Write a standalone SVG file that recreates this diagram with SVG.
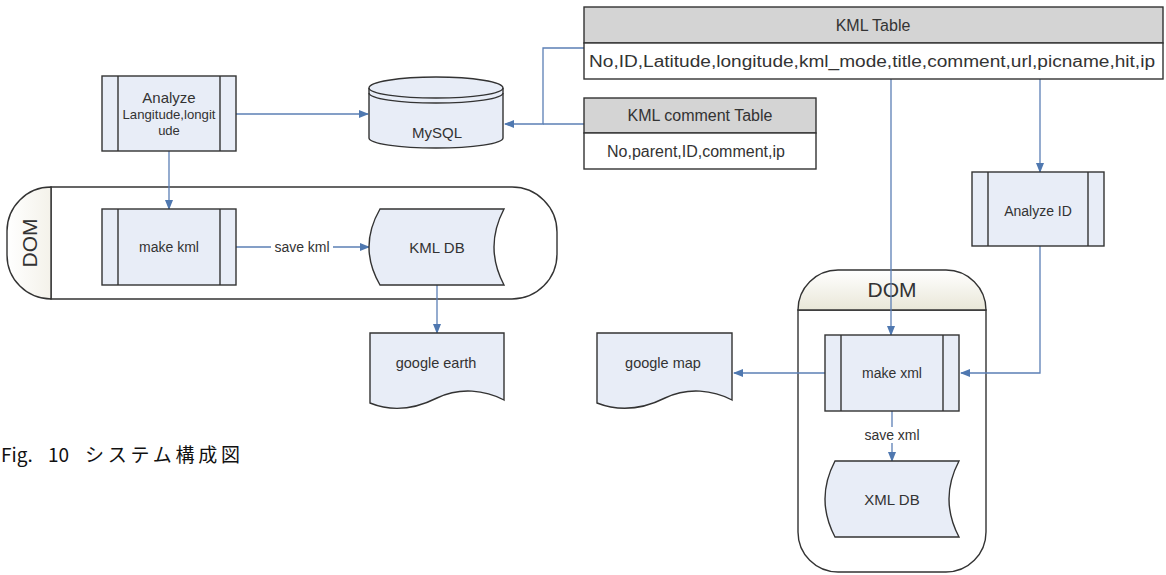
<svg xmlns="http://www.w3.org/2000/svg" width="1166" height="575" viewBox="0 0 1166 575">
  <defs>
    <marker id="arrow" markerUnits="userSpaceOnUse" markerWidth="10" markerHeight="10" viewBox="0 0 10 10" refX="9" refY="5" orient="auto">
      <path d="M0,1 L10,5 L0,9 Z" fill="#4f78b0"/>
    </marker>
    <linearGradient id="hdrV" x1="0" y1="0" x2="0" y2="1">
      <stop offset="0" stop-color="#ffffff"/>
      <stop offset="1" stop-color="#e9e7d8"/>
    </linearGradient>
    <linearGradient id="hdrH" x1="0" y1="0" x2="1" y2="0">
      <stop offset="0" stop-color="#ffffff"/>
      <stop offset="1" stop-color="#f4f2ea"/>
    </linearGradient>
  </defs>
  <style>
    .shape { fill: #e8edf7; stroke: #333; stroke-width: 1.4; }
    .frame { fill: #ffffff; stroke: #333; stroke-width: 1.4; }
    .bar { fill: none; stroke: #333; stroke-width: 1.4; }
    .hdr { fill: #d4d4d4; stroke: #333; stroke-width: 1.4; }
    .row { fill: #ffffff; stroke: #333; stroke-width: 1.4; }
    .link { fill: none; stroke: #5b7fb5; stroke-width: 1.3; }
    .t { font-family: "Liberation Sans", Arial, sans-serif; fill: #333; text-anchor: middle; dominant-baseline: central; }
    .lbl { font-family: "Liberation Sans", Arial, sans-serif; fill: #333; text-anchor: middle; dominant-baseline: central; font-size: 14px; }
    .cap { font-family: "Noto Sans CJK JP", "Liberation Sans", sans-serif; font-size: 19px; fill: #111; }
  </style>

  <rect width="1166" height="575" fill="#ffffff"/>

  <!-- containers -->
  <g id="dom-left">
    <path class="frame" d="M51,187 H512 A45,45 0 0 1 557,232 V254 A45,45 0 0 1 512,299 H51 Z"/>
    <path d="M51,187 A44,44 0 0 0 7,231 V255 A44,44 0 0 0 51,299 Z" fill="url(#hdrH)" stroke="#333" stroke-width="1.4"/>
    <text class="t" font-size="21" transform="translate(29,243) rotate(-90)">DOM</text>
  </g>

  <g id="dom-right">
    <path class="frame" d="M798,310 V532 A40,40 0 0 0 838,572 H946 A40,40 0 0 0 986,532 V310 Z"/>
    <path d="M798,310 A40,40 0 0 1 838,270 H946 A40,40 0 0 1 986,310 Z" fill="url(#hdrV)" stroke="#333" stroke-width="1.4"/>
    <text class="t" font-size="21" x="892" y="289">DOM</text>
  </g>

  <!-- connectors -->
  <g id="connectors">
    <line class="link" x1="236" y1="114" x2="368" y2="114" marker-end="url(#arrow)"/>
    <line class="link" x1="169" y1="151" x2="169" y2="209" marker-end="url(#arrow)"/>
    <line class="link" x1="236" y1="247" x2="369" y2="247" marker-end="url(#arrow)"/>
    <line class="link" x1="437" y1="285" x2="437" y2="333" marker-end="url(#arrow)"/>
    <polyline class="link" points="584,48 543,48 543,124 505,124" marker-end="url(#arrow)"/>
    <line class="link" x1="584" y1="124" x2="543" y2="124"/>
    <line class="link" x1="891" y1="79" x2="891" y2="335" marker-end="url(#arrow)"/>
    <line class="link" x1="1040" y1="79" x2="1040" y2="172" marker-end="url(#arrow)"/>
    <polyline class="link" points="1040,246 1040,373 961,373" marker-end="url(#arrow)"/>
    <line class="link" x1="825" y1="373" x2="734" y2="373" marker-end="url(#arrow)"/>
    <line class="link" x1="892" y1="411" x2="892" y2="461" marker-end="url(#arrow)"/>
    <rect x="271" y="239" width="62" height="16" fill="#ffffff"/>
    <text class="lbl" x="302" y="247">save kml</text>
    <rect x="861" y="427" width="62" height="16" fill="#ffffff"/>
    <text class="lbl" x="892" y="435">save xml</text>
  </g>

  <!-- nodes -->
  <g id="analyze-lat">
    <rect class="shape" x="102" y="76" width="134" height="75"/>
    <line class="bar" x1="118" y1="76" x2="118" y2="151"/>
    <line class="bar" x1="220" y1="76" x2="220" y2="151"/>
    <text class="t" font-size="15" x="169" y="97">Analyze</text>
    <text class="t" font-size="13" x="169" y="114" textLength="93" lengthAdjust="spacingAndGlyphs">Langitude,longit</text>
    <text class="t" font-size="13" x="169" y="130">ude</text>
  </g>

  <g id="mysql">
    <path class="shape" d="M369,88 V138 A67,10 0 0 0 503,138 V88 A67,11 0 0 0 369,88 Z"/>
    <path class="bar" d="M369,88 A67,10 0 0 0 503,88"/>
    <path class="bar" d="M369,93 A67,10 0 0 0 503,93"/>
    <text class="t" font-size="15" x="437" y="132">MySQL</text>
  </g>

  <g id="kml-table">
    <rect class="hdr" x="584" y="7" width="579" height="36"/>
    <rect class="row" x="584" y="43" width="579" height="36"/>
    <text class="t" font-size="16" x="873" y="25">KML Table</text>
    <text class="t" font-size="16" x="872" y="61" textLength="566" lengthAdjust="spacingAndGlyphs">No,ID,Latitude,longitude,kml_mode,title,comment,url,picname,hit,ip</text>
  </g>

  <g id="kml-comment-table">
    <rect class="hdr" x="584" y="98" width="232" height="35"/>
    <rect class="row" x="584" y="133" width="232" height="36"/>
    <text class="t" font-size="16" x="700" y="115">KML comment Table</text>
    <text class="t" font-size="16" x="696" y="151">No,parent,ID,comment,ip</text>
  </g>

  <g id="make-kml">
    <rect class="shape" x="102" y="209" width="134" height="76"/>
    <line class="bar" x1="118" y1="209" x2="118" y2="285"/>
    <line class="bar" x1="220" y1="209" x2="220" y2="285"/>
    <text class="t" font-size="14" x="169" y="247">make kml</text>
  </g>

  <g id="kml-db">
    <path class="shape" d="M380,209 H504 Q484,247 504,285 H380 Q358,247 380,209 Z"/>
    <text class="t" font-size="15" x="437" y="247">KML DB</text>
  </g>

  <g id="google-earth">
    <path class="shape" d="M370,333 H504 V400 C485,390 460,387 437,398 C415,409 392,412 370,403 Z"/>
    <text class="t" font-size="14.5" x="436" y="363">google earth</text>
  </g>

  <g id="google-map">
    <path class="shape" d="M597,333 H732 V400 C713,390 688,387 665,398 C643,409 620,412 597,403 Z"/>
    <text class="t" font-size="14.5" x="663" y="363">google map</text>
  </g>

  <g id="analyze-id">
    <rect class="shape" x="972" y="172" width="132" height="74"/>
    <line class="bar" x1="988" y1="172" x2="988" y2="246"/>
    <line class="bar" x1="1088" y1="172" x2="1088" y2="246"/>
    <text class="t" font-size="14" x="1038" y="211">Analyze ID</text>
  </g>

  <g id="make-xml">
    <rect class="shape" x="825" y="335" width="134" height="76"/>
    <line class="bar" x1="841" y1="335" x2="841" y2="411"/>
    <line class="bar" x1="943" y1="335" x2="943" y2="411"/>
    <text class="t" font-size="14" x="892" y="373">make xml</text>
  </g>

  <g id="xml-db">
    <path class="shape" d="M835,461 H959 Q939,499 959,537 H835 Q815,499 835,461 Z"/>
    <text class="t" font-size="15" x="892" y="499">XML DB</text>
  </g>

  <!-- caption -->
  <text class="cap" y="462"><tspan x="1">Fig.</tspan><tspan x="48">10</tspan><tspan x="85" textLength="155" lengthAdjust="spacing">システム構成図</tspan></text>
</svg>
